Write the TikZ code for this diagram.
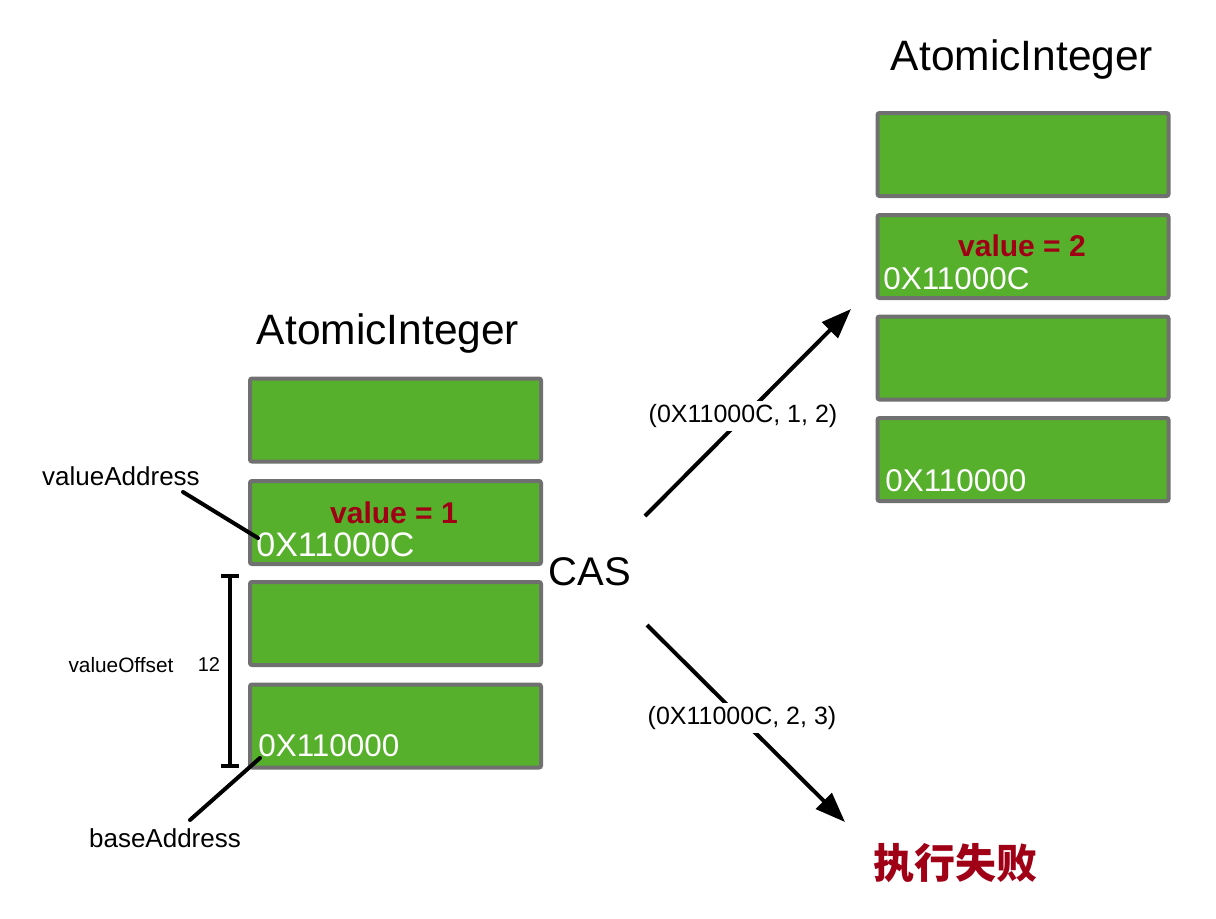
\documentclass[tikz,border=0pt]{standalone}
\usepackage{fontspec}
\setmainfont{Liberation Sans}
\newfontfamily\cjk{Noto Sans CJK SC}
\usetikzlibrary{arrows.meta}
\definecolor{cellFill}{RGB}{86,176,44}
\definecolor{cellLine}{RGB}{112,112,112}
\definecolor{valRed}{RGB}{160,0,22}

\begin{document}
\begin{tikzpicture}[x=0.5pt,y=-0.5pt,
  cell/.style={draw=cellLine,line width=2pt,fill=cellFill,minimum width=145.5pt,minimum height=41.5pt,inner sep=0pt,rounded corners=1pt},
  val/.style={font=\fontsize{15}{18}\selectfont\bfseries,text=valRed,inner sep=0pt},
  addr/.style={font=\fontsize{15.7}{19}\selectfont,text=white,inner sep=1pt,anchor=west},
  title/.style={font=\fontsize{21.25}{25}\selectfont,inner sep=0pt},
  note/.style={font=\fontsize{13}{15}\selectfont,inner sep=0pt},
  lead/.style={line width=2pt,line cap=round},
  flow/.style={-{Triangle[length=15pt,width=11pt]},line width=2pt},
  tag/.style={font=\fontsize{12.5}{15}\selectfont,fill=white,inner sep=1.5pt}]
\useasboundingbox (0,0) rectangle (1216,918);
\node[title] (ltitle) at (388,333) {AtomicInteger};
\node[cell] (l1) at (395.5,420) {};
\node[cell] (l2) at (395.5,522.5) {};
\node[cell] (l3) at (395.5,623.5) {};
\node[cell] (l4) at (395.5,726) {};
\node[val] (lval) at (394,513) {value = 1};
\node[addr,font=\fontsize{17}{20}\selectfont] (laddr2) at (254,545) {0X11000C};
\node[addr] (laddr4) at (256,746) {0X110000};
\node[title] (rtitle) at (1022,60) {AtomicInteger};
\node[cell] (r1) at (1023,154.5) {};
\node[cell] (r2) at (1023,256.5) {};
\node[cell] (r3) at (1023,358) {};
\node[cell] (r4) at (1023,459.5) {};
\node[val] (rval) at (1022,246) {value = 2};
\node[addr] (raddr2) at (881,279) {0X11000C};
\node[addr] (raddr4) at (883,481) {0X110000};
\node[note] (vaddr) at (121,476) {valueAddress};
\node[note] (baddr) at (165,838) {baseAddress};
\node[font=\fontsize{10.4}{12}\selectfont,inner sep=0pt] (voff) at (121,665) {valueOffset};
\node[font=\fontsize{10}{12}\selectfont,inner sep=0pt] (twelve) at (209,665) {12};
\node[font=\fontsize{20}{24}\selectfont,inner sep=0pt] (cas) at (590,572) {CAS};
\node[font=\cjk\fontsize{20.5}{24}\selectfont\bfseries,text=valRed,inner sep=0pt] (fail) at (955,863) {执行失败};
\coordinate (vaFrom) at (183,492);
\coordinate (vaTo) at (258,538);
\coordinate (baFrom) at (190,820);
\coordinate (baTo) at (260,758);
\coordinate (offTop) at (230,574);
\coordinate (offBot) at (230,768);
\coordinate (okFrom) at (645,516);
\coordinate (okTo) at (851,309);
\coordinate (noFrom) at (647,625);
\coordinate (noTo) at (845,822);
\draw[lead] (vaFrom) -- (vaTo);
\draw[lead] (baFrom) -- (baTo);
\draw[line width=2pt,{Bar[width=9pt]}-{Bar[width=9pt]}] (offTop) -- (offBot);
\draw[flow] (okFrom) -- (okTo);
\draw[flow] (noFrom) -- (noTo);
\node[tag] (oktag) at (743,416) {(0X11000C, 1, 2)};
\node[tag] (notag) at (742,718) {(0X11000C, 2, 3)};
\end{tikzpicture}
\end{document}
